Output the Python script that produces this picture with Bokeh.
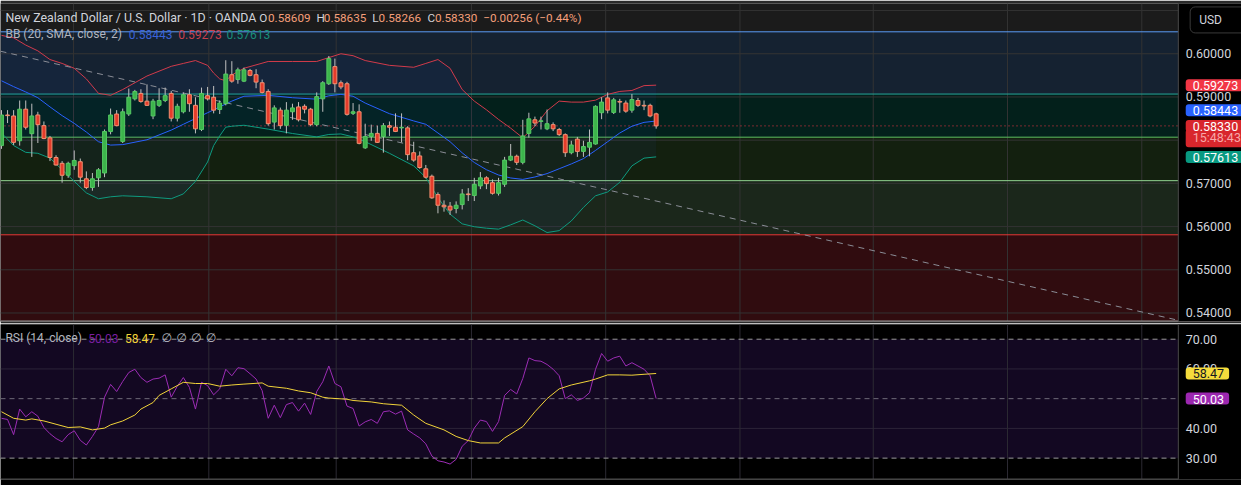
from bokeh.plotting import figure
from bokeh.models import Range1d, Label, Span, BoxAnnotation, ColumnDataSource
from bokeh.layouts import column
from bokeh.embed import file_html
from bokeh.resources import INLINE

# ---------------- data ----------------
opens = [0.57874,0.58583,0.58560,0.57986,0.58717,0.58150,0.58583,0.58336,0.58053,0.57598,
         0.57464,0.57188,0.57411,0.57501,0.57106,0.56904,0.57128,0.57240,0.58202,0.58605,
         0.57971,0.58605,0.58956,0.59082,0.58903,0.58560,0.58806,0.58918,0.59082,0.58508,
         0.58657,0.59053,0.58806,0.58247,0.59030,0.58993,0.58709,0.58844,0.59515,0.59403,
         0.59366,0.59612,0.59515,0.59329,0.59127,0.58418,0.58695,0.58344,0.58657,0.58769,
         0.58784,0.58717,0.58359,0.58956,0.59306,0.59702,0.59329,0.59306,0.58620,0.58657,
         0.57822,0.58083,0.58157,0.58083,0.58336,0.58299,0.58284,0.58284,0.57710,0.57635,
         0.57337,0.57165,0.56740,0.56494,0.56472,0.56419,0.56509,0.56755,0.56718,0.56941,
         0.57128,0.57016,0.56770,0.56979,0.57538,0.57628,0.57486,0.58157,0.58471,0.58433,
         0.58262,0.58359,0.58247,0.58128,0.57710,0.58023,0.57740,0.57837,0.57911,0.58635,
         0.58978,0.58642,0.58896,0.58859,0.58695,0.58918,0.58806,0.58806,0.58609]
highs = [0.58695,0.58695,0.58695,0.58918,0.58918,0.58844,0.58657,0.58433,0.58098,0.57650,
         0.57516,0.57501,0.57762,0.57575,0.57277,0.57240,0.57352,0.58247,0.58732,0.58695,
         0.58732,0.59194,0.59164,0.59179,0.59291,0.58956,0.59202,0.59217,0.59142,0.58844,
         0.59105,0.59179,0.58993,0.59217,0.59232,0.59254,0.58918,0.59850,0.59828,0.59679,
         0.59679,0.59649,0.59642,0.59403,0.59179,0.58806,0.58754,0.58881,0.58844,0.58881,
         0.58829,0.58747,0.59105,0.59366,0.59948,0.59888,0.59381,0.59351,0.58859,0.58829,
         0.58381,0.58359,0.58336,0.58396,0.58433,0.58620,0.58620,0.58322,0.57963,0.57740,
         0.57426,0.57203,0.56792,0.56606,0.56568,0.56583,0.56867,0.56889,0.57128,0.57262,
         0.57165,0.57091,0.57128,0.57613,0.57911,0.57665,0.58471,0.58635,0.58545,0.58545,
         0.58709,0.58411,0.58284,0.58157,0.57986,0.58075,0.57986,0.58247,0.58806,0.58993,
         0.59105,0.58978,0.58956,0.58918,0.59068,0.58978,0.58918,0.58844,0.58635]
lows = [0.57799,0.58396,0.57889,0.57874,0.58247,0.57613,0.57934,0.58023,0.57516,0.57411,
        0.57016,0.57128,0.57314,0.57016,0.56867,0.56830,0.56919,0.57143,0.58135,0.58322,
        0.57934,0.58560,0.58918,0.58866,0.58791,0.58486,0.58769,0.58881,0.58433,0.58433,
        0.58620,0.58657,0.58157,0.58210,0.58918,0.58620,0.58605,0.58806,0.59329,0.59306,
        0.59344,0.59478,0.59202,0.59082,0.58336,0.58247,0.58262,0.58157,0.58471,0.58433,
        0.58620,0.58322,0.58322,0.58657,0.59276,0.59105,0.59179,0.58568,0.58583,0.57904,
        0.57799,0.57986,0.57934,0.57710,0.58098,0.58187,0.57949,0.57538,0.57501,0.57337,
        0.57113,0.56643,0.56307,0.56345,0.56270,0.56307,0.56397,0.56591,0.56591,0.56867,
        0.56867,0.56740,0.56718,0.56919,0.57516,0.57426,0.57441,0.58060,0.58322,0.58247,
        0.58232,0.58210,0.58098,0.57613,0.57673,0.57613,0.57613,0.57628,0.57896,0.58486,
        0.58620,0.58605,0.58635,0.58635,0.58635,0.58769,0.58695,0.58530,0.58266]
closes = [0.58583,0.58568,0.57949,0.58717,0.58299,0.58560,0.58359,0.58038,0.57598,0.57426,
          0.57188,0.57464,0.57531,0.57143,0.56904,0.57106,0.57314,0.58202,0.58583,0.58336,
          0.58657,0.58993,0.59127,0.58896,0.58806,0.58903,0.58918,0.59030,0.58508,0.58784,
          0.59053,0.58844,0.58262,0.59082,0.58956,0.58695,0.58859,0.59530,0.59366,0.59627,
          0.59627,0.59500,0.59344,0.59105,0.58381,0.58747,0.58336,0.58695,0.58747,0.58471,
          0.58717,0.58359,0.59008,0.59329,0.59888,0.59306,0.59232,0.58598,0.58657,0.57926,
          0.58083,0.58157,0.57949,0.58336,0.58299,0.58202,0.58299,0.57665,0.57538,0.57367,
          0.57143,0.56665,0.56494,0.56457,0.56382,0.56494,0.56755,0.56740,0.56979,0.57128,
          0.56994,0.56770,0.57016,0.57538,0.57628,0.57486,0.58098,0.58493,0.58396,0.58448,
          0.58381,0.58262,0.58128,0.57710,0.57889,0.57740,0.57852,0.57949,0.58784,0.58881,
          0.58695,0.58933,0.58881,0.58672,0.58941,0.58806,0.58791,0.58560,0.58330]

bb_idx = [0,2,4,6,8,10,12,14,16,18,20,24,28,30,32,34,35,36,37,38,40,44,48,52,54,56,58,60,64,68,
          70,72,74,76,78,80,82,84,86,88,90,92,94,96,98,100,102,104,106,108]
bb_upper = [0.60425,0.60369,0.60201,0.60067,0.59866,0.59776,0.59664,0.59418,0.59083,0.59038,
            0.59172,0.59485,0.59709,0.59776,0.59843,0.59732,0.59553,0.59418,0.59374,0.59508,
            0.59664,0.59821,0.59821,0.59821,0.59911,0.60000,0.59955,0.59843,0.59732,0.59687,
            0.59776,0.59866,0.59664,0.59172,0.58904,0.58703,0.58479,0.58278,0.58054,0.58322,
            0.58680,0.58904,0.58881,0.58881,0.58926,0.59060,0.59128,0.59150,0.59262,0.59273]
bb_mid = [0.59374,0.59239,0.59116,0.58982,0.58770,0.58568,0.58389,0.58188,0.57964,0.57886,
          0.57897,0.58009,0.58233,0.58367,0.58501,0.58635,0.58702,0.58770,0.58837,0.58904,
          0.59016,0.59038,0.58982,0.58949,0.59027,0.59060,0.59016,0.58859,0.58613,0.58445,
          0.58367,0.58166,0.57964,0.57707,0.57483,0.57316,0.57193,0.57125,0.57092,0.57148,
          0.57226,0.57338,0.57450,0.57573,0.57763,0.57964,0.58166,0.58322,0.58412,0.58443]
bb_lower = [0.58166,0.57875,0.57718,0.57696,0.57584,0.57316,0.57047,0.56779,0.56644,0.56689,
            0.56712,0.56689,0.56644,0.56756,0.57047,0.57495,0.57875,0.58099,0.58300,0.58322,
            0.58345,0.58255,0.58154,0.58076,0.58132,0.58143,0.58076,0.57964,0.57696,0.57405,
            0.57137,0.56667,0.56287,0.56063,0.55996,0.55962,0.55940,0.56040,0.56152,0.56018,
            0.55862,0.55906,0.56130,0.56443,0.56712,0.56801,0.57025,0.57405,0.57584,0.57613]

rsi = [43.4,43.0,37.9,46.5,43.9,45.6,44.1,40.3,38.2,36.6,
       35.5,37.9,39.2,36.0,34.4,37.3,40.6,50.5,54.8,52.4,
       55.8,58.8,59.9,57.1,55.5,56.6,56.9,58.0,50.5,54.2,
       57.1,53.8,46.5,55.5,54.4,51.3,53.3,59.9,57.7,60.4,
       60.1,58.4,56.6,52.7,43.4,47.8,43.6,48.0,48.7,45.8,
       48.5,44.7,52.4,55.7,61.0,55.1,54.0,47.5,46.7,40.8,
       42.2,43.0,41.7,45.6,45.9,44.8,45.8,39.5,38.1,36.8,
       34.8,30.7,29.1,28.7,28.0,29.6,34.0,35.9,40.1,42.8,
       42.3,39.0,42.3,51.1,53.1,51.6,56.8,63.7,62.8,62.6,
       61.5,59.9,57.7,50.0,51.3,49.4,50.2,52.0,59.9,65.2,
       62.6,63.7,64.3,61.0,62.1,61.0,59.9,57.7,50.03]
ma_idx = [0,2,4,5,7,9,11,13,15,17,18,20,22,23,25,26,28,30,32,34,36,38,40,43,44,47,49,51,53,54,
          57,58,61,63,66,68,70,73,75,77,79,82,83,86,88,90,92,94,97,98,100,102,104,106,108]
rsi_ma = [45.6,43.4,42.8,43.2,42.5,41.4,40.3,40.5,39.5,40.1,41.2,42.5,44.5,46.5,48.7,51.1,53.3,
          55.5,55.1,55.1,54.2,54.6,54.9,55.3,54.2,53.5,52.6,52.0,50.5,50.2,49.8,49.4,48.9,48.3,
          47.8,44.5,41.7,39.5,37.3,35.9,35.1,35.1,36.8,40.6,45.6,50.0,53.3,54.6,56.0,56.6,58.0,
          58.0,57.9,58.2,58.47]

zone_levels = [0.60508, 0.59067, 0.58069, 0.57063, 0.55810]
trend_x = [-0.163, 193.6]
trend_y = [0.60058, 0.53848]
price_ticks = [0.54, 0.55, 0.56, 0.57, 0.58, 0.59, 0.60, 0.61]
rsi_ticks = [30, 40, 50, 60, 70]
title_text = "New Zealand Dollar / U.S. Dollar \u00b7 1D \u00b7 OANDA"
change_text = "\u22120.00256 (\u22120.44%)"
countdown = "15:48:43"

# ---------------- layout helpers ----------------
W = 1241
X0, X1 = -0.163, 204.56          # whole canvas width (reference px 0..1257)
Y0, Y1 = 0.53803, 0.61163        # main pane (reference px 3..332)
R0, R1 = 22.81, 74.95            # RSI pane (reference px 336..494)
FONT = "Roboto"
AXIS_PX = 1193

def px2x(px):
    return X0 + px * (X1 - X0) / 1257.0

def py2p(py):
    return Y1 - (py - 3) * (Y1 - Y0) / 329.0

vgrid_px = [74, 211, 340, 477, 613, 749, 884, 1020, 1156]
GRID = "#333333"
AX_L = px2x(AXIS_PX)
AX_TXT = px2x(1200.5)

x_range = Range1d(X0, X1)

def lab(fig, x, y, text, color, size="12px", font=FONT, **kw):
    fig.add_layout(Label(x=x, y=y, text=text, text_color=color, text_font=font,
                         text_font_size=size, text_baseline="middle", text_align="left", **kw))

def base_fig(height, yr, bg, border, btop, bbot):
    f = figure(width=W, height=height, x_range=x_range, y_range=yr,
               output_backend="svg", toolbar_location=None,
               x_axis_location=None, y_axis_location=None,
               background_fill_color=bg, border_fill_color=border,
               min_border_left=0, min_border_right=0, min_border_top=btop, min_border_bottom=bbot,
               outline_line_color=None)
    f.xgrid.visible = False
    f.ygrid.visible = False
    return f

def axis_strip(fig, ticks, fmt):
    # black price-scale strip on the right with its tick labels
    fig.add_layout(BoxAnnotation(left=AX_L, fill_color="#000000", fill_alpha=1.0,
                                 line_color=None, level="annotation"))
    fig.add_layout(Span(location=AX_L, dimension="height", line_color="#4a4a4a", line_width=1,
                        level="annotation"))
    for t in ticks:
        lab(fig, AX_TXT, t, fmt.format(t), "#d1d4dc", "12.5px")

# ---------------- main pane ----------------
p = base_fig(323, Range1d(Y0, Y1), "#1b1b1b", "#2a2a2a", 3, 2)

zone_colors = ["#152231", "#03201b", "#13200f", "#1b271b", "#300c0f"]
zone_line_colors = ["#5b9cf6", "#26a69a", "#5cbf60", "#8fd18f", "#e53935"]
bounds = zone_levels + [Y0]
for k in range(5):
    p.add_layout(BoxAnnotation(bottom=bounds[k + 1], top=bounds[k], fill_color=zone_colors[k],
                               fill_alpha=1.0, line_color=None, level="image"))
for t in price_ticks:
    p.add_layout(Span(location=t, dimension="width", line_color=GRID, line_width=1, level="underlay"))
for vx in vgrid_px:
    p.add_layout(Span(location=px2x(vx), dimension="height", line_color=GRID, line_width=1, level="underlay"))
for k in range(5):
    p.add_layout(Span(location=zone_levels[k], dimension="width", line_color=zone_line_colors[k],
                      line_width=1, level="underlay"))
p.add_layout(Span(location=closes[-1], dimension="width", line_color="#f23645", line_width=1,
                  line_dash="1 3", level="underlay"))
p.add_layout(Span(location=Y0, dimension="width", line_color="#9a9a9a", line_width=2, level="underlay"))

# Bollinger bands
p.varea(x=bb_idx, y1=bb_lower, y2=bb_upper, fill_color="#2962ff", fill_alpha=0.05)
p.line(bb_idx, bb_upper, line_color="#d23b4b", line_width=1)
p.line(bb_idx, bb_mid, line_color="#2962ff", line_width=1)
p.line(bb_idx, bb_lower, line_color="#0f9b80", line_width=1)

# trend line
p.line(trend_x, trend_y, line_color="#8a8d96", line_width=1, line_dash="6 5")

# candles
n = len(closes)
xs = list(range(n))
up = [c >= o for o, c in zip(opens, closes)]
src = ColumnDataSource(dict(
    x=xs, o=opens, h=highs, l=lows, c=closes,
    top=[max(o, c) for o, c in zip(opens, closes)],
    bot=[min(o, c) for o, c in zip(opens, closes)],
    fill=["#3cb44b" if u else "#e53c2b" for u in up],
    edge=["#55c964" if u else "#f39070" for u in up],
))
p.segment(x0="x", y0="l", x1="x", y1="h", line_color="#c0c0c0", line_width=1, source=src)
p.vbar(x="x", width=0.64, top="top", bottom="bot", fill_color="fill", line_color="edge",
       line_width=1, source=src)

# header legends
TXT = "#d1d4dc"
VAL = "#f59f7a"
y1 = py2p(18)
lab(p, px2x(5), y1, title_text, TXT, "12.4px")
for px, t, col in [(262, "O", TXT), (271, f"{opens[-1]:.5f}", VAL),
                   (320, "H", TXT), (327.5, f"{highs[-1]:.5f}", VAL),
                   (376.5, "L", TXT), (383, f"{lows[-1]:.5f}", VAL),
                   (432.5, "C", TXT), (440, f"{closes[-1]:.5f}", VAL),
                   (489, change_text, VAL)]:
    lab(p, px2x(px), y1, t, col, "11.7px")
y2 = py2p(35)
for px, t, col in [(5, "BB (20, SMA, close, 2)", "#b2b5be"),
                   (130, f"{bb_mid[-1]:.5f}", "#3b63d8"),
                   (180, f"{bb_upper[-1]:.5f}", "#c9404e"),
                   (229, f"{bb_lower[-1]:.5f}", "#1a8f7a")]:
    lab(p, px2x(px), y2, t, col, "12px")

# price scale
axis_strip(p, price_ticks[:-1], "{:.5f}")
pad = dict(left=7, right=5, top=2, bottom=1)
lab(p, AX_TXT, bb_upper[-1], f"{bb_upper[-1]:.5f}", "#ffffff", "12.5px",
    background_fill_color="#f23645", border_radius=3, padding=pad)
lab(p, AX_TXT, py2p(113.5), f"{bb_mid[-1]:.5f}", "#ffffff", "12.5px",
    background_fill_color="#2962ff", border_radius=3, padding=pad)
lab(p, AX_TXT, py2p(142.5), countdown, "#f7a8a8", "12.5px",
    background_fill_color="#d8262c", border_radius=3, padding=dict(left=7, right=4, top=1, bottom=2))
lab(p, AX_TXT, closes[-1], f"{closes[-1]:.5f}", "#ffffff", "12.5px",
    background_fill_color="#d8262c", border_radius=3, padding=dict(left=7, right=7, top=2, bottom=1))
lab(p, AX_TXT, bb_lower[-1], f"{bb_lower[-1]:.5f}", "#ffffff", "12.5px",
    background_fill_color="#089981", border_radius=3, padding=pad)
lab(p, px2x(1205), py2p(20), "USD", "#d1d4dc", "12px",
    background_fill_color="#000000", border_line_color="#3a3a3a", border_radius=5,
    padding=dict(left=9, right=25, top=6, bottom=6))

# ---------------- RSI pane ----------------
r = base_fig(162, Range1d(R0, R1), "#000000", "#000000", 1, 6)
r.add_layout(BoxAnnotation(bottom=30, top=70, fill_color="#130822", fill_alpha=1.0,
                           line_color=None, level="image"))
for t in [40, 60]:
    r.add_layout(Span(location=t, dimension="width", line_color="#2c2438", line_width=1, level="underlay"))
for vx in vgrid_px:
    r.add_layout(Span(location=px2x(vx), dimension="height", line_color="#2c2a33", line_width=1,
                      level="underlay"))
for lv, col in [(70, "#9a9a9a"), (50, "#6e6a78"), (30, "#9a9a9a")]:
    r.add_layout(Span(location=lv, dimension="width", line_color=col, line_width=1,
                      line_dash="5 4", level="underlay"))
r.add_layout(Span(location=R0, dimension="width", line_color="#4a4a4a", line_width=2, level="underlay"))
r.line(xs, rsi, line_color="#9c2db5", line_width=1)
r.line(ma_idx, rsi_ma, line_color="#f2d43a", line_width=1)

ry = 70.3
lab(r, px2x(5), ry, "RSI (14, close)", "#b2b5be", "12px")
lab(r, px2x(89), ry, f"{rsi[-1]:.2f}", "#7b1fa2", "12px")
lab(r, px2x(126), ry, f"{rsi_ma[-1]:.2f}", "#f2d43a", "12px")
for px in [163, 178, 193, 208]:
    lab(r, px2x(px), ry, "\u2205", "#b2b5be", "12px", font="DejaVu Sans")

axis_strip(r, rsi_ticks, "{:.2f}")
lab(r, AX_TXT, rsi_ma[-1], f"{rsi_ma[-1]:.2f}", "#131722", "12.5px",
    background_fill_color="#f5dc3c", border_radius=3, padding=pad)
lab(r, AX_TXT, rsi[-1], f"{rsi[-1]:.2f}", "#ffffff", "12.5px",
    background_fill_color="#9c27b0", border_radius=3, padding=pad)

layout = column(p, r, spacing=0)
open("out.html", "w").write(file_html(layout, INLINE))
